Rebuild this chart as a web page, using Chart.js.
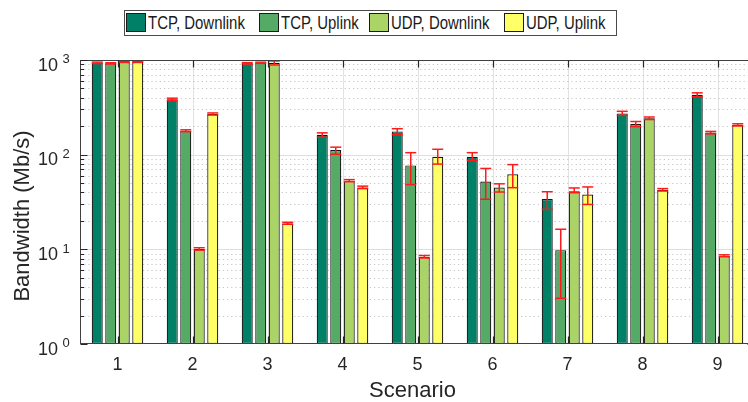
<!DOCTYPE html>
<html>
<head>
<meta charset="utf-8">
<script src="https://cdn.jsdelivr.net/npm/chart.js@4.4.1/dist/chart.umd.min.js"></script>
<style>
  html, body { margin: 0; padding: 0; background: #fff; overflow: hidden; width: 748px; height: 402px; }
  #wrap { position: absolute; left: 0; top: 0; width: 760px; height: 402px; }
  #legend {
    position: absolute; left: 124px; top: 10px; width: 493px; height: 26px;
    box-sizing: border-box; border: 1px solid #4a4a4a; background: #fff;
    font-family: "Liberation Sans", Arial, sans-serif; font-size: 18px; color: #1a1a1a;
  }
  .sw { position: absolute; top: 2px; width: 20px; height: 19px; box-sizing: border-box; border: 1px solid #1a1a1a; }
  .lb { position: absolute; top: -1px; line-height: 26px; white-space: nowrap; transform: scaleX(0.83); transform-origin: 0 50%; }
</style>
</head>
<body>
<div id="wrap"><canvas id="c" width="760" height="402"></canvas></div>
<div id="legend"></div>
<script>
// Scenario labels and series names
const categories = ['1', '2', '3', '4', '5', '6', '7', '8', '9'];
const seriesNames = ['TCP, Downlink', 'TCP, Uplink', 'UDP, Downlink', 'UDP, Uplink'];

// Mean bandwidth per scenario (Mb/s)
const tcpDown = [936, 384, 923, 162, 176, 95, 34, 273, 430];
const tcpUp   = [923, 179, 936, 112, 77, 52, 9.8, 211, 171];
const udpDown = [952, 10.1, 935, 53, 8.3, 45, 41, 242, 8.5];
const udpUp   = [950, 269, 18.8, 45, 95, 62, 38, 42.3, 206];

// Error range [low, high] per scenario (Mb/s)
const tcpDownErr = [[918, 950], [372, 395], [908, 938], [153, 170], [163, 188], [87, 105], [26.4, 40.6], [260, 287], [410, 450]];
const tcpUpErr   = [[908, 936], [175, 183], [922, 948], [101, 120], [48.3, 105], [33.8, 71.5], [3.04, 16.3], [198, 224], [166, 176]];
const udpDownErr = [[942, 962], [9.8, 10.4], [886, 976], [51.8, 54.5], [8.1, 8.6], [40.3, 49.2], [39.6, 44.5], [235, 250], [8.35, 8.75]];
const udpUpErr   = [[944, 958], [262, 276], [18.4, 19.3], [43.8, 46.5], [79.5, 114], [44.8, 78.5], [29.8, 45.6], [41.3, 43.8], [201, 212]];

// Decade exponents labelled on the y axis
const yTickExponents = [0, 1, 2, 3];

const seriesValues = [tcpDown, tcpUp, udpDown, udpUp];
const seriesErrors = [tcpDownErr, tcpUpErr, udpDownErr, udpUpErr];
const seriesColors = ['rgb(0,128,102)', 'rgb(85,170,102)', 'rgb(170,213,102)', 'rgb(255,255,102)'];

const FONT = '"Liberation Sans", Arial, sans-serif';
const INK = '#262626';

// Legend (HTML)
const legendSwatchX = [1, 134, 244, 379];
const legendTextX = [23, 156, 266, 401];
const legendEl = document.getElementById('legend');
seriesNames.forEach((name, i) => {
  const sw = document.createElement('div');
  sw.className = 'sw';
  sw.style.left = legendSwatchX[i] + 'px';
  sw.style.background = seriesColors[i];
  legendEl.appendChild(sw);
  const lb = document.createElement('span');
  lb.className = 'lb';
  lb.style.left = legendTextX[i] + 'px';
  lb.textContent = name;
  legendEl.appendChild(lb);
});

function seg(ctx, x1, y1, x2, y2) {
  ctx.beginPath(); ctx.moveTo(x1, y1); ctx.lineTo(x2, y2); ctx.stroke();
}

// Grid, error bars, box frame, ticks and labels in a MATLAB-like style
const axesPlugin = {
  id: 'boxedAxes',
  beforeDatasetsDraw(chart) {
    const { ctx, chartArea: a, scales: { x, y } } = chart;
    ctx.save();
    ctx.lineWidth = 1;
    // vertical grid at each scenario
    ctx.strokeStyle = '#e2e2e2';
    categories.forEach((c, i) => {
      const px = Math.round(x.getPixelForValue(i)) + 0.5;
      seg(ctx, px, a.top, px, a.bottom);
    });
    // minor dotted grid
    ctx.strokeStyle = '#c6c6c6';
    ctx.setLineDash([1.2, 3]);
    for (let k = 0; k < 3; k++) {
      for (let m = 2; m <= 9; m++) {
        const py = Math.round(y.getPixelForValue(m * Math.pow(10, k))) + 0.5;
        seg(ctx, a.left, py, a.right, py);
      }
    }
    // major grid
    ctx.setLineDash([]);
    ctx.strokeStyle = '#dedede';
    for (let k = 1; k < 3; k++) {
      const py = Math.round(y.getPixelForValue(Math.pow(10, k))) + 0.5;
      seg(ctx, a.left, py, a.right, py);
    }
    ctx.restore();
  },
  afterDatasetsDraw(chart) {
    const { ctx, chartArea: a, scales: { x, y } } = chart;
    ctx.save();

    // error bars
    ctx.strokeStyle = '#ff1a1a';
    ctx.lineWidth = 1.5;
    chart.data.datasets.forEach((ds, di) => {
      const meta = chart.getDatasetMeta(di);
      meta.data.forEach((bar, i) => {
        const [lo, hi] = ds.errorRange[i];
        const yl = y.getPixelForValue(lo);
        const yh = y.getPixelForValue(hi);
        const half = bar.width / 2;
        seg(ctx, bar.x, yl, bar.x, yh);
        seg(ctx, bar.x - half, yl, bar.x + half, yl);
        seg(ctx, bar.x - half, yh, bar.x + half, yh);
      });
    });

    // box frame
    const L = Math.round(a.left) + 0.5, R = Math.round(a.right) - 0.5;
    const T = Math.round(a.top) + 0.5, B = Math.round(a.bottom) - 0.5;
    ctx.strokeStyle = '#404040';
    ctx.lineWidth = 1;
    ctx.strokeRect(L, T, R - L, B - T);

    // ticks (inward)
    ctx.strokeStyle = INK;
    ctx.lineWidth = 1.2;
    categories.forEach((c, i) => {
      const px = Math.round(x.getPixelForValue(i)) + 0.5;
      seg(ctx, px, T, px, T + 7);
      seg(ctx, px, B, px, B - 7);
    });
    ctx.lineWidth = 1;
    for (let k = 0; k <= 3; k++) {
      const py = Math.round(y.getPixelForValue(Math.pow(10, k))) + 0.5;
      seg(ctx, L, py, L + 7, py);
      seg(ctx, R, py, R - 7, py);
      if (k < 3) {
        for (let m = 2; m <= 9; m++) {
          const pm = Math.round(y.getPixelForValue(m * Math.pow(10, k))) + 0.5;
          seg(ctx, L, pm, L + 3.5, pm);
          seg(ctx, R, pm, R - 3.5, pm);
        }
      }
    }

    // y tick labels: 10 with exponent
    ctx.fillStyle = INK;
    ctx.textBaseline = 'alphabetic';
    yTickExponents.forEach(e => {
      const py = y.getPixelForValue(Math.pow(10, e));
      ctx.font = '18px ' + FONT;
      ctx.textAlign = 'right';
      ctx.fillText('10', 58, py + 10.5);
      ctx.font = '13px ' + FONT;
      ctx.textAlign = 'left';
      ctx.fillText(String(e), 62.5, py + 3.3);
    });

    // x tick labels
    ctx.font = '18px ' + FONT;
    ctx.textAlign = 'center';
    categories.forEach((c, i) => {
      ctx.fillText(c, x.getPixelForValue(i), a.bottom + 26);
    });

    // axis titles
    ctx.font = '22px ' + FONT;
    ctx.fillText('Scenario', 412.5, 397);
    ctx.save();
    ctx.translate(29, 216);
    ctx.rotate(-Math.PI / 2);
    ctx.fillText('Bandwidth (Mb/s)', 0, 0);
    ctx.restore();

    ctx.restore();
  }
};

new Chart(document.getElementById('c'), {
  type: 'bar',
  data: {
    labels: categories,
    datasets: seriesNames.map((name, i) => ({
      label: name,
      data: seriesValues[i],
      errorRange: seriesErrors[i],
      backgroundColor: seriesColors[i],
      borderColor: '#141414',
      borderWidth: 1.2,
      borderSkipped: false
    }))
  },
  options: {
    responsive: false,
    animation: false,
    devicePixelRatio: 1,
    layout: { padding: { left: 80, top: 60, right: 5, bottom: 58 } },
    datasets: { bar: { categoryPercentage: 0.72, barPercentage: 0.815 } },
    scales: {
      x: { display: false },
      y: { type: 'logarithmic', display: false, min: 1, max: 1000 }
    },
    plugins: { legend: { display: false }, tooltip: { enabled: false } }
  },
  plugins: [axesPlugin]
});
</script>
</body>
</html>
